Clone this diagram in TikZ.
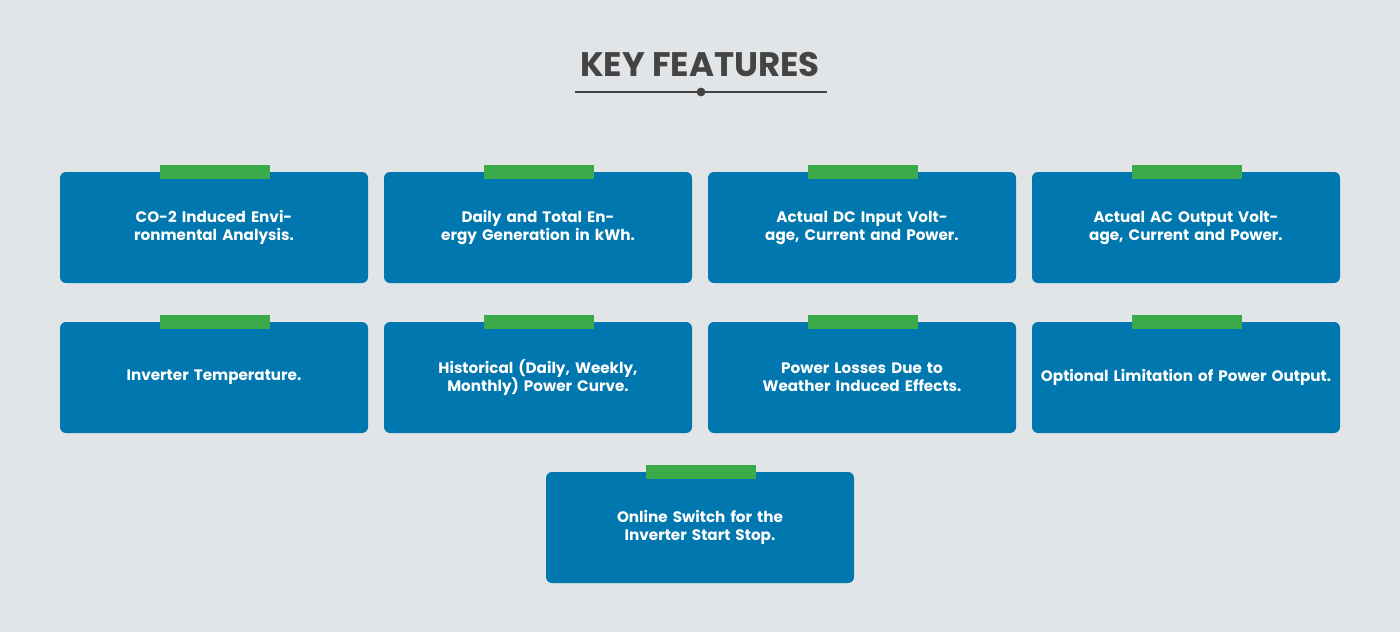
\documentclass[tikz,border=0pt]{standalone}
\usepackage{fontspec}
\setmainfont{Poppins}
\definecolor{bg}{HTML}{E1E5E8}
\definecolor{boxblue}{HTML}{0077AE}
\definecolor{tabgreen}{HTML}{3BAA48}
\definecolor{titlegray}{HTML}{444444}
\tikzset{
  feature/.style={fill=boxblue, rounded corners=3pt, minimum width=154pt, minimum height=55.5pt,
    text width=146pt, align=center, text=white, font=\fontsize{7.6}{9}\selectfont\bfseries, inner sep=0pt},
  tab/.style={fill=tabgreen, minimum width=55pt, minimum height=7pt, inner sep=0pt}
}
\begin{document}
\begin{tikzpicture}[x=0.5pt, y=-0.5pt]
  %background
  \fill[bg] (0,0) rectangle (1400,632);
  \useasboundingbox (0,0) rectangle (1400,632);
  %title
  \node[font=\fontsize{17}{20}\selectfont\bfseries, text=titlegray] (title) at (700,65) {KEY FEATURES};
  \coordinate (rule left) at (575,92);
  \coordinate (rule right) at (827,92);
  \draw[titlegray, line width=0.8pt] (rule left) -- (rule right);
  \fill[titlegray] (701,92) circle (2.2pt);
  %boxes
  \foreach \n/\x/\y/\txt in {
    f1/214/227.5/{CO-2 Induced Environmental Analysis.},
    f2/538/227.5/{Daily and Total Energy Generation in kWh.},
    f3/862/227.5/{Actual DC Input Voltage, Current and Power.},
    f4/1186/227.5/{Actual AC Output Voltage, Current and Power.},
    f5/214/377.5/{Inverter Temperature.},
    f6/538/377.5/{Historical (Daily, Weekly, Monthly) Power Curve.},
    f7/862/377.5/{Power Losses Due to Weather Induced Effects.},
    f8/1186/377.5/{Optional Limitation of Power Output.},
    f9/700/527.5/{Online Switch for the Inverter Start Stop.}
  }{
    \node[feature] (\n) at (\x,\y) {\txt};
    \node[tab] (\n tab) at ([xshift=0.5pt]\n.north) {};
  }
\end{tikzpicture}
\end{document}
